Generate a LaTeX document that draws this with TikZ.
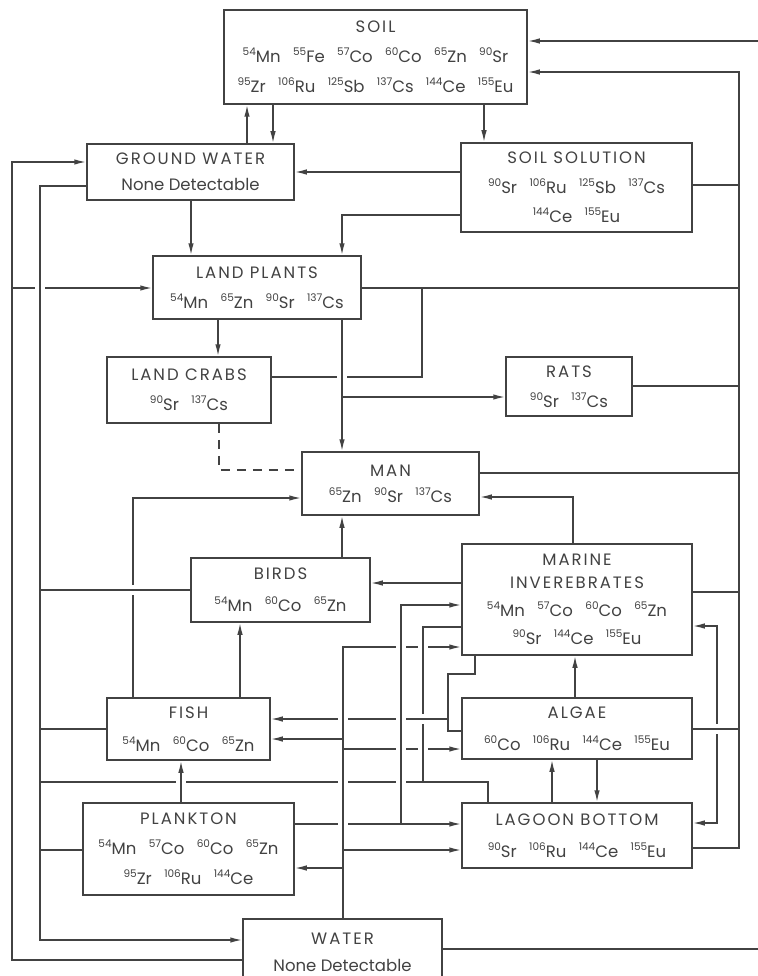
\documentclass[tikz,border=0pt]{standalone}
\usepackage{fontspec}
\setmainfont{Poppins}
\newfontfamily\ttlfont[LetterSpace=12]{Poppins}
\usetikzlibrary{arrows.meta}
\definecolor{ink}{RGB}{66,66,66}
\newcommand\iso[2]{\raisebox{7pt}{\fontsize{10.5}{10.5}\selectfont#1}#2}
\newcommand\sep{\hspace{0.75em}}
\newcommand\ttl[1]{{\ttlfont#1}}
\newcommand\hgap[2]{\fill[white] ({#1-5},{#2-1.6}) rectangle ({#1+5},{#2+1.6}); \draw[ln] (#1,{#2-3}) -- (#1,{#2+3});}
\newcommand\vgap[2]{\fill[white] ({#1-1.6},{#2-5}) rectangle ({#1+1.6},{#2+5}); \draw[ln] ({#1-3},#2) -- ({#1+3},#2);}
\begin{document}
\begin{tikzpicture}[x=1pt,y=-1pt,
  box/.style={draw=ink,line width=1.5pt,inner sep=0pt,align=center,text=ink},
  bs/.style={font=\fontsize{16.5}{#1}\selectfont},
  ln/.style={draw=ink,line width=1.5pt},
  arr/.style={ln,-{Latex[length=12pt,width=5.5pt]}},
  darr/.style={ln,{Latex[length=12pt,width=5.5pt]}-{Latex[length=12pt,width=5.5pt]}}]
\useasboundingbox[fill=white] (0,0) rectangle (757,976);

% ---- boxes
\node[box,bs=30,minimum width=303pt,minimum height=94pt] (soil) at (375.5,57)
  {\ttl{SOIL}\\ \iso{54}{Mn}\sep\iso{55}{Fe}\sep\iso{57}{Co}\sep\iso{60}{Co}\sep\iso{65}{Zn}\sep\iso{90}{Sr}\\
   \iso{95}{Zr}\sep\iso{106}{Ru}\sep\iso{125}{Sb}\sep\iso{137}{Cs}\sep\iso{144}{Ce}\sep\iso{155}{Eu}};
\node[box,bs=26,minimum width=207pt,minimum height=56pt] (gw) at (190.5,172)
  {\ttl{GROUND WATER}\\ None Detectable};
\node[box,bs=29.5,minimum width=231pt,minimum height=89pt] (ss) at (576.5,187.5)
  {\ttl{SOIL SOLUTION}\\ \iso{90}{Sr}\sep\iso{106}{Ru}\sep\iso{125}{Sb}\sep\iso{137}{Cs}\\ \iso{144}{Ce}\sep\iso{155}{Eu}};
\node[box,bs=30,minimum width=208pt,minimum height=63pt] (lp) at (257,287.5)
  {\ttl{LAND PLANTS}\\ \iso{54}{Mn}\sep\iso{65}{Zn}\sep\iso{90}{Sr}\sep\iso{137}{Cs}};
\node[box,bs=30,minimum width=164pt,minimum height=66pt] (lc) at (189,390)
  {\ttl{LAND CRABS}\\ \iso{90}{Sr}\sep\iso{137}{Cs}};
\node[box,bs=30,minimum width=126pt,minimum height=59pt] (rats) at (569,386.5)
  {\ttl{RATS}\\ \iso{90}{Sr}\sep\iso{137}{Cs}};
\node[box,bs=26,minimum width=177pt,minimum height=63pt] (man) at (390.5,483.5)
  {\ttl{MAN}\\ \iso{65}{Zn}\sep\iso{90}{Sr}\sep\iso{137}{Cs}};
\node[box,bs=32,minimum width=179pt,minimum height=64pt] (birds) at (280.5,590)
  {\ttl{BIRDS}\\ \iso{54}{Mn}\sep\iso{60}{Co}\sep\iso{65}{Zn}};
\node[box,bs=28,minimum width=230pt,minimum height=111pt] (mi) at (577,599.5)
  {\ttl{MARINE}\\[-5pt] \ttl{INVEREBRATES}\\ \iso{54}{Mn}\sep\iso{57}{Co}\sep\iso{60}{Co}\sep\iso{65}{Zn}\\ \iso{90}{Sr}\sep\iso{144}{Ce}\sep\iso{155}{Eu}};
\node[box,bs=33,minimum width=163pt,minimum height=62pt] (fish) at (188.5,729)
  {\ttl{FISH}\\ \iso{54}{Mn}\sep\iso{60}{Co}\sep\iso{65}{Zn}};
\node[box,bs=32,minimum width=230pt,minimum height=61pt] (algae) at (577,728.5)
  {\ttl{ALGAE}\\ \iso{60}{Co}\sep\iso{106}{Ru}\sep\iso{144}{Ce}\sep\iso{155}{Eu}};
\node[box,bs=30,minimum width=211pt,minimum height=92pt] (plankton) at (188.5,849)
  {\ttl{PLANKTON}\\ \iso{54}{Mn}\sep\iso{57}{Co}\sep\iso{60}{Co}\sep\iso{65}{Zn}\\ \iso{95}{Zr}\sep\iso{106}{Ru}\sep\iso{144}{Ce}};
\node[box,bs=32,minimum width=230pt,minimum height=65pt] (lb) at (577,835.5)
  {\ttl{LAGOON BOTTOM}\\ \iso{90}{Sr}\sep\iso{106}{Ru}\sep\iso{144}{Ce}\sep\iso{155}{Eu}};
\node[box,bs=27,minimum width=199pt,minimum height=66pt] (water) at (342.5,952)
  {\ttl{WATER}\\ None Detectable};

% ---- upper part
\draw[arr] (gw.north -| 247,0) -- (soil.south -| 247,0);
\draw[arr] (soil.south -| 273,0) -- (gw.north -| 273,0);
\draw[arr] (soil.south -| 484,0) -- (ss.north -| 484,0);
\draw[arr] (ss.west |- 0,172) -- (gw.east |- 0,172);
\draw[arr] (ss.west |- 0,215) -- (342,215) -- (lp.north -| 342,0);
\draw[arr] (gw.south -| 191,0) -- (lp.north -| 191,0);
\draw[arr] (water.west |- 0,960) -- (12,960) -- (12,162) -- (gw.west |- 0,162);
\draw[arr] (12,288) -- (lp.west |- 0,288);
\draw[arr] (gw.west |- 0,186) -- (40,186) -- (40,940) -- (water.west |- 0,940);
\draw[ln] (birds.west |- 0,590) -- (40,590);
\draw[ln] (fish.west |- 0,729) -- (40,729);
\draw[ln] (plankton.west |- 0,850) -- (40,850);
\draw[ln] (lb.north -| 488,0) -- (488,782) -- (40,782);
\draw[ln] (mi.west |- 0,627) -- (423,627) -- (423,782);
\draw[arr] (lp.south -| 218,0) -- (lc.north -| 218,0);
\draw[arr] (lp.south -| 342,0) -- (man.north -| 342,0);
\draw[arr] (342,397) -- (rats.west |- 0,397);
\draw[ln,dash pattern=on 9pt off 7pt] (lc.south -| 219,0) -- (219,470) -- (man.west |- 0,470);
\draw[ln] (lc.east |- 0,377) -- (422,377) -- (422,288);
% bus to soil
\draw[arr] (lb.east |- 0,848) -- (739,848) -- (739,72) -- (soil.east |- 0,72);
\draw[ln] (ss.east |- 0,185) -- (739,185);
\draw[ln] (lp.east |- 0,288) -- (739,288);
\draw[ln] (rats.east |- 0,386) -- (739,386);
\draw[ln] (man.east |- 0,473) -- (739,473);
\draw[ln] (mi.east |- 0,592) -- (739,592);
\draw[ln] (algae.east |- 0,729) -- (739,729);
\draw[arr] (water.east |- 0,949) -- (775,949) -- (775,41) -- (soil.east |- 0,41);
% man
\draw[arr] (fish.north -| 133,0) -- (133,498) -- (man.west |- 0,498);
\draw[arr] (birds.north -| 342,0) -- (man.south -| 342,0);
\draw[arr] (mi.north -| 573,0) -- (573,497) -- (man.east |- 0,497);
\draw[arr] (mi.west |- 0,583) -- (birds.east |- 0,583);
\draw[arr] (fish.north -| 240,0) -- (birds.south -| 240,0);
\draw[arr] (plankton.north -| 181,0) -- (fish.south -| 181,0);
% plankton
\draw[arr] (plankton.east |- 0,824) -- (lb.west |- 0,824);
\draw[arr] (401,824) -- (401,605) -- (mi.west |- 0,605);
% water vertical
\draw[arr] (water.north -| 343,0) -- (343,647) -- (mi.west |- 0,647);
\draw[arr] (343,739) -- (fish.east |- 0,739);
\draw[arr] (343,749) -- (algae.west |- 0,749);
\draw[arr] (343,850) -- (lb.west |- 0,850);
\draw[arr] (343,868) -- (plankton.east |- 0,868);
% mi / algae to fish
\draw[ln] (mi.south -| 475,0) -- (475,674) -- (448,674) -- (448,731) -- (algae.west |- 0,731);
\draw[arr] (448,719) -- (fish.east |- 0,719);
\draw[arr] (algae.north -| 575,0) -- (mi.south -| 575,0);
\draw[arr] (lb.north -| 552,0) -- (algae.south -| 552,0);
\draw[arr] (algae.south -| 597,0) -- (lb.north -| 597,0);
\draw[darr] (mi.east |- 0,626) -- (717,626) -- (717,823) -- (lb.east |- 0,823);

% ---- crossings
\hgap{40}{288}
\hgap{342}{377}
\vgap{133}{590}
\hgap{181}{782}
\hgap{343}{782}
\hgap{401}{782}
\hgap{343}{719}
\hgap{401}{719}
\vgap{423}{719}
\hgap{401}{749}
\hgap{423}{749}
\hgap{401}{647}
\hgap{423}{647}
\hgap{343}{824}
\vgap{717}{729}
\end{tikzpicture}
\end{document}
